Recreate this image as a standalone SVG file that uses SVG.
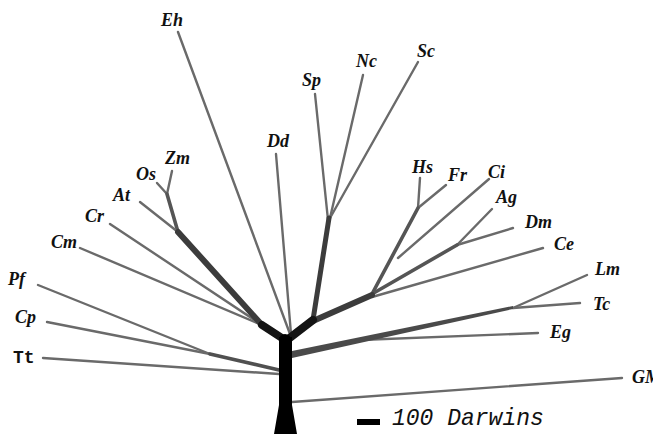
<svg xmlns="http://www.w3.org/2000/svg" width="653" height="434" viewBox="0 0 653 434">
<style>
.lbl{font-family:"Liberation Serif","Times New Roman",serif;font-weight:bold;font-style:italic;font-size:18px;fill:#111}
.mono{font-family:"Liberation Mono","Courier New",monospace;fill:#111}
.thin{stroke:#6a6a6a;stroke-width:2.4;fill:none;stroke-linecap:round}
.med{stroke:#555;stroke-width:3.6;fill:none;stroke-linecap:round}
.thick{stroke:#3c3c3c;stroke-width:6;fill:none;stroke-linecap:round}
.blk{stroke:#141414;stroke-width:8;fill:none;stroke-linecap:round}
</style>
<rect width="653" height="434" fill="#fff"/>
<g id="connectors">
  <!-- left cluster -->
  <line class="thin" x1="157" y1="183" x2="167" y2="194"/>
  <line class="thin" x1="172" y1="171" x2="167" y2="194"/>
  <line class="med" x1="167" y1="194" x2="178" y2="232"/>
  <line class="thin" x1="140" y1="202" x2="178" y2="232"/>
  <line class="thin" x1="110" y1="224" x2="262" y2="325"/>
  <line class="thin" x1="80" y1="248" x2="262" y2="325"/>
  <line class="thick" x1="178" y1="232" x2="262" y2="325"/>
  <line class="blk" x1="262" y1="325" x2="285" y2="340"/>
  <!-- Eh, Dd -->
  <line class="thin" x1="178" y1="32" x2="290" y2="334"/>
  <line class="thin" x1="276" y1="154" x2="291" y2="334"/>
  <!-- center up -->
  <line class="thin" x1="315" y1="94" x2="328" y2="220"/>
  <line class="thin" x1="363" y1="75" x2="330" y2="218"/>
  <line class="thin" x1="418" y1="62" x2="330" y2="218"/>
  <line class="thick" style="stroke-width:5" x1="329" y1="218" x2="313" y2="320"/>
  <!-- right upper -->
  <line class="thin" x1="420" y1="178" x2="418" y2="208"/>
  <line class="thin" x1="446" y1="185" x2="418" y2="208"/>
  <line class="med" x1="418" y1="208" x2="372" y2="294"/>
  <line class="thin" x1="489" y1="179" x2="398" y2="258"/>
  <line class="thin" x1="492" y1="209" x2="457" y2="245"/>
  <line class="thin" x1="513" y1="228" x2="457" y2="245"/>
  <line class="med" x1="457" y1="245" x2="372" y2="294"/>
  <line class="thin" x1="543" y1="248" x2="372" y2="297"/>
  <line class="thick" x1="313" y1="321" x2="372" y2="295"/>
  <line class="blk" x1="313" y1="320" x2="287" y2="340"/>
  <!-- right lower -->
  <line class="thin" x1="587" y1="275" x2="513" y2="308"/>
  <line class="thin" x1="580" y1="303" x2="513" y2="308"/>
  <line class="thin" x1="538" y1="333" x2="360" y2="340"/>
  <path d="M292,351 L513,306 L513,309 L292,358 Z" fill="#4a4a4a"/>
  <line class="thin" x1="622" y1="378" x2="292" y2="402"/>
  <!-- left lower -->
  <line class="thin" x1="38" y1="285" x2="210" y2="354"/>
  <line class="thin" x1="47" y1="322" x2="210" y2="354"/>
  <line class="med" style="stroke:#505050" x1="210" y1="354" x2="279" y2="370"/>
  <line class="thin" x1="43" y1="358" x2="279" y2="374"/>
</g>
<g id="trunk">
  <polygon points="279,337 292,337 292,405 297,434 274,434 279,405" fill="#000"/>
  <circle cx="285" cy="340" r="6" fill="#000"/>
</g>
<g id="n-Eh"><text class="lbl" x="161" y="26">Eh</text></g>
<g id="n-Sp"><text class="lbl" x="302" y="86">Sp</text></g>
<g id="n-Nc"><text class="lbl" x="356" y="67">Nc</text></g>
<g id="n-Sc"><text class="lbl" x="417" y="57">Sc</text></g>
<g id="n-Dd"><text class="lbl" x="267" y="147">Dd</text></g>
<g id="n-Zm"><text class="lbl" x="165" y="164">Zm</text></g>
<g id="n-Os"><text class="lbl" x="136" y="180">Os</text></g>
<g id="n-At"><text class="lbl" x="113" y="201">At</text></g>
<g id="n-Cr"><text class="lbl" x="85" y="222">Cr</text></g>
<g id="n-Cm"><text class="lbl" x="51" y="248">Cm</text></g>
<g id="n-Pf"><text class="lbl" x="8" y="285">Pf</text></g>
<g id="n-Cp"><text class="lbl" x="15" y="323">Cp</text></g>
<g id="n-Tt"><text class="mono" x="13" y="363" font-size="18" font-weight="bold">Tt</text></g>
<g id="n-Hs"><text class="lbl" x="412" y="173">Hs</text></g>
<g id="n-Fr"><text class="lbl" x="448" y="181">Fr</text></g>
<g id="n-Ci"><text class="lbl" x="488" y="178">Ci</text></g>
<g id="n-Ag"><text class="lbl" x="496" y="203">Ag</text></g>
<g id="n-Dm"><text class="lbl" x="525" y="228">Dm</text></g>
<g id="n-Ce"><text class="lbl" x="554" y="250">Ce</text></g>
<g id="n-Lm"><text class="lbl" x="595" y="275">Lm</text></g>
<g id="n-Tc"><text class="lbl" x="593" y="310">Tc</text></g>
<g id="n-Eg"><text class="lbl" x="550" y="338">Eg</text></g>
<g id="n-GM"><text class="lbl" x="632" y="383">GM</text></g>
<g id="scale">
  <rect x="357" y="419" width="23" height="6" fill="#000"/>
  <text class="mono" x="392" y="425" font-size="23" font-style="italic">100 Darwins</text>
</g>
</svg>
